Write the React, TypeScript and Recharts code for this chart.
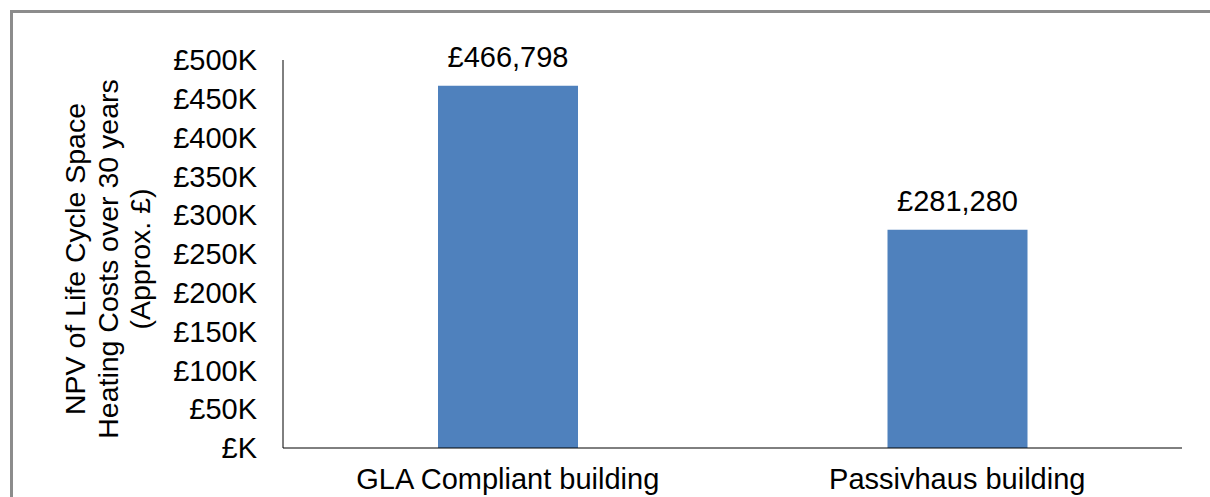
import React from "react";
import { BarChart, Bar, XAxis, YAxis, LabelList } from "recharts";

const categories = ["GLA Compliant building", "Passivhaus building"];
const npvValues = [466798, 281280];
const yTicks = [0, 50000, 100000, 150000, 200000, 250000, 300000, 350000, 400000, 450000, 500000];
const yTitleLines = ["NPV of Life Cycle Space", "Heating Costs over 30 years", "(Approx. £)"];

const data = categories.map((name, i) => ({ name, value: npvValues[i] }));

const FONT = "'Liberation Sans', Arial, sans-serif";
const BLUE = "#4F81BD";

const fmtTick = (v: number) => (v === 0 ? "£K" : `£${v / 1000}K`);
const fmtValue = (v: number) => `£${Number(v).toLocaleString("en-GB")}`;

// rotated 3-line axis title, baselines
const YTitle = () => {
  const baselines = [85, 118, 150];
  const cy = 259;
  return (
    <g>
      {yTitleLines.map((line, i) => (
        <text
          key={line}
          x={baselines[i]}
          y={cy}
          transform={`rotate(-90 ${baselines[i]} ${cy})`}
          textAnchor="middle"
          fontFamily={FONT}
          fontSize={28.5}
          fill="#000"
        >
          {line}
        </text>
      ))}
    </g>
  );
};

const ValueLabel = (props: any) => {
  const { x, y, width, value } = props;
  return (
    <text
      x={Number(x) + Number(width) / 2}
      y={Number(y) - 19}
      textAnchor="middle"
      fontFamily={FONT}
      fontSize={29}
      fill="#000"
    >
      {fmtValue(value)}
    </text>
  );
};

export default function App() {
  return (
    <div
      style={{
        position: "absolute",
        left: 0,
        top: 0,
        width: 1210,
        height: 497,
        overflow: "hidden",
        background: "#fff",
      }}
    >
      {/* chart frame, right/bottom edges fall outside the picture */}
      <div
        style={{
          position: "absolute",
          left: 10,
          top: 10,
          width: 1300,
          height: 600,
          border: "3px solid #8c8c8c",
        }}
      />
      <div style={{ position: "absolute", left: 0, top: 0 }}>
        <BarChart
          width={1210}
          height={497}
          data={data}
          margin={{ top: 60, right: 28, bottom: 19, left: 0 }}
        >
          <XAxis
            dataKey="name"
            height={30}
            axisLine={{ stroke: "#000", strokeWidth: 1 }}
            tickLine={false}
            tickSize={0}
            tickMargin={20}
            tick={{ fill: "#000", fontSize: 29, fontFamily: FONT }}
            interval={0}
          />
          <YAxis
            width={283}
            domain={[0, 500000]}
            ticks={yTicks}
            tickFormatter={fmtTick}
            axisLine={{ stroke: "#000", strokeWidth: 1 }}
            tickLine={false}
            tickSize={0}
            tickMargin={26}
            tick={{ fill: "#000", fontSize: 29, fontFamily: FONT }}
            interval={0}
            label={{ content: () => <YTitle /> }}
          />
          <Bar dataKey="value" fill={BLUE} barSize={140} isAnimationActive={false}>
            <LabelList dataKey="value" content={ValueLabel} />
          </Bar>
        </BarChart>
      </div>
    </div>
  );
}
